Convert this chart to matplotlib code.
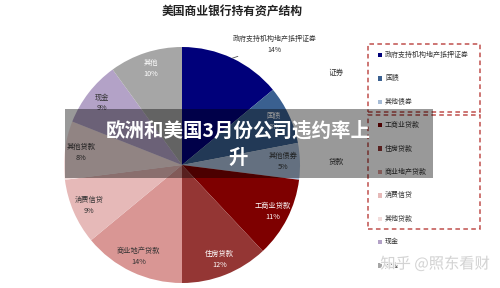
import matplotlib
matplotlib.use("Agg")
from matplotlib import pyplot as plt
from matplotlib.patches import Rectangle
import matplotlib.patheffects as pe
import numpy as np

plt.rcParams["font.family"] = ["Noto Sans CJK SC", "DejaVu Sans"]

# data, clockwise from 12 o'clock
categories = ["政府支持机构地产抵押证券", "国债", "其他债券", "工商业贷款", "住房贷款",
              "商业地产贷款", "消费信贷", "其他贷款", "现金", "其他"]
shares = [14, 8, 5, 11, 12, 14, 9, 8, 9, 10]
colors = ["#00007a", "#3a6090", "#a7bcd6", "#7e0000", "#943634",
          "#d99694", "#e6b9b8", "#f2dcdb", "#b3a2c7", "#a6a6a6"]
label_colors = ["#333333", "white", "#333333", "white", "white",
                "#333333", "#333333", "#333333", "#333333", "white"]
legend_labels = ["政府支持机构地产抵押证券", "国债", "其他债券", "工商业贷款", "住房贷款",
                 "商业地产贷款", "消费信贷", "其他贷款", "现金", "其他"]
group_names = ["证券", "贷款"]

W, H = 500, 288


def fx(x):
    return x / W


def fy(y):
    return 1 - y / H


fig = plt.figure(figsize=(5, 2.88), dpi=100)
fig.patch.set_facecolor("white")

# pie: center (182,165), radius 118 px
cx, cy, r = 182, 165, 118
ax = fig.add_axes([fx(cx - r), fy(cy + r), 2 * r / W, 2 * r / H])
wedges, _ = ax.pie(shares, colors=colors, startangle=90, counterclock=False,
                   radius=1, wedgeprops=dict(linewidth=0))
ax.set_xlim(-1, 1)
ax.set_ylim(-1, 1)
ax.axis("off")

for i, w in enumerate(wedges):
    mid = np.deg2rad((w.theta1 + w.theta2) / 2)
    txt = "%s\n%d%%" % (categories[i], shares[i])
    if i == 0:
        x0, y0 = np.cos(mid), np.sin(mid)
        ax.annotate(txt, xy=(x0, y0), xytext=(x0 + 0.36, y0 + 0.12),
                    ha="center", va="center", fontsize=5, color="#333333",
                    linespacing=1.5,
                    arrowprops=dict(arrowstyle="-", color="#555555", lw=0.6,
                                    shrinkA=0, shrinkB=0),
                    annotation_clip=False)
        continue
    d = 0.86
    ax.text(d * np.cos(mid), d * np.sin(mid), txt, ha="center", va="center",
            fontsize=5.2, color=label_colors[i], linespacing=1.5)

# title
fig.text(fx(232), fy(12), "美国商业银行持有资产结构", ha="center", va="center",
         fontsize=8.5, fontweight="bold", color="#222222")

# legend
for i, lab in enumerate(legend_labels):
    y = 55 + i * 23.4
    fig.patches.append(Rectangle((fx(378), fy(y + 2.2)), 4.4 / W, 4.4 / H,
                                 transform=fig.transFigure, facecolor=colors[i],
                                 edgecolor="none"))
    fig.text(fx(385), fy(y), lab, ha="left", va="center", fontsize=5,
             color="#333333")

# dashed group boxes
for (y0, y1) in [(44, 112), (115, 229)]:
    fig.patches.append(Rectangle((fx(368), fy(y1)), (480 - 368) / W, (y1 - y0) / H,
                                 transform=fig.transFigure, fill=False,
                                 edgecolor="#c0504d", linewidth=1.1,
                                 linestyle=(0, (3, 2.2))))
fig.text(fx(336), fy(73), group_names[0], ha="center", va="center", fontsize=5.5,
         color="#333333")
fig.text(fx(336), fy(162), group_names[1], ha="center", va="center", fontsize=5.5,
         color="#333333")

# banner overlay
fig.patches.append(Rectangle((fx(65), fy(178)), (433 - 65) / W, (178 - 109) / H,
                             transform=fig.transFigure, facecolor="black",
                             alpha=0.4, edgecolor="none", zorder=5))
fig.text(fx(238), fy(131), "欧洲和美国3月份公司违约率上", ha="center", va="center",
         fontsize=14, fontweight="bold", color="white", zorder=6)
fig.text(fx(238), fy(158), "升", ha="center", va="center",
         fontsize=14, fontweight="bold", color="white", zorder=6)

# watermark
fig.text(fx(435), fy(264), "知乎 @照东看财", ha="center", va="center",
         fontsize=11, color="#cfcfcf", alpha=0.9, zorder=7,
         path_effects=[pe.withStroke(linewidth=1.5, foreground="white")])

fig.savefig("out.png", dpi=100)
